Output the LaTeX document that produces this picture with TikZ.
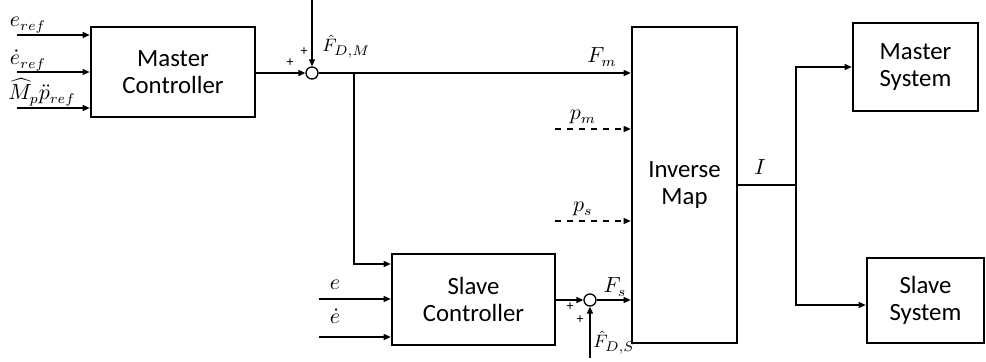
\documentclass[tikz,border=0pt]{standalone}
\usepackage{fontspec}
\setmainfont{Carlito}
\usetikzlibrary{arrows.meta}
\begin{document}
\begin{tikzpicture}[x=0.5pt,y=-0.5pt,
  blk/.style={draw, line width=1.3pt, align=center, inner sep=0pt,
    font=\fontsize{12.4}{13.5}\selectfont},
  sumc/.style={draw, circle, line width=0.65pt, minimum size=6pt, inner sep=0pt},
  arr/.style={line width=0.65pt, -{Triangle[length=3.5pt,width=3pt]}},
  ln/.style={line width=0.65pt},
  lab/.style={inner sep=0pt, anchor=base, font=\fontsize{10.5}{12}\selectfont},
  slab/.style={inner sep=0pt, anchor=base, font=\fontsize{9.5}{11}\selectfont},
  pl/.style={inner sep=0pt, font=\fontsize{7}{8}\selectfont}]
\useasboundingbox (0,0) rectangle (986,362);
% blocks
\node[blk, minimum width=82pt, minimum height=45pt] (mc) at (173,72) {Master\\Controller};
\node[blk, minimum width=81.5pt, minimum height=45.5pt] (sc) at (473.5,299.5) {Slave\\Controller};
\node[blk, minimum width=52.5pt, minimum height=158pt] (im) at (684.5,185) {Inverse\\Map};
\node[blk, minimum width=62.5pt, minimum height=44pt] (ms) at (915.5,67) {Master\\System};
\node[blk, minimum width=58.5pt, minimum height=42.5pt] (ss) at (925.5,300.5) {Slave\\System};
% summing junctions
\node[sumc] (s1) at (312,73) {};
\node[sumc] (s2) at (590,300) {};
% free ends
\coordinate (in1) at (17,35);
\coordinate (in2) at (17,72);
\coordinate (in3) at (17,108);
\coordinate (t1) at (312,0);
\coordinate (b1) at (354,73);
\coordinate (y264) at (0,264);
\coordinate (ein) at (319,299);
\coordinate (edin) at (319,337);
\coordinate (t2) at (590,358);
\coordinate (pm) at (555,129);
\coordinate (ps) at (555,221);
\coordinate (jI) at (796,185);
\coordinate (y305) at (0,305);
% connectors
\draw[arr] (in1) -- (in1 -| mc.west);
\draw[arr] (in2) -- (in2 -| mc.west);
\draw[arr] (in3) -- (in3 -| mc.west);
\draw[arr] (mc.east |- s1) -- (s1);
\draw[arr] (t1) -- (s1);
\draw[arr] (s1) -- (s1 -| im.west);
\draw[arr] (b1) |- (sc.west |- y264);
\draw[arr] (ein) -- (ein -| sc.west);
\draw[arr] (edin) -- (edin -| sc.west);
\draw[arr] (sc.east |- s2) -- (s2);
\draw[arr] (t2) -- (s2);
\draw[arr] (s2) -- (s2 -| im.west);
\draw[arr, dashed] (pm) -- (pm -| im.west);
\draw[arr, dashed] (ps) -- (ps -| im.west);
\draw[ln] (im.east |- jI) -- (jI);
\draw[arr] (jI) |- (ms.west);
\draw[arr] (jI) |- (ss.west |- y305);
% labels
\node[lab] (leref) at (28,27) {$e_{ref}$};
\node[lab] (ledref) at (28,65) {$\dot e_{ref}$};
\node[lab] (lmp) at (42,100) {$\widehat{M}_p\ddot p_{ref}$};
\node[slab, anchor=base west] (lfdm) at (322,52) {$\hat F_{D,M}$};
\node[lab] (lfm) at (602,63) {$F_m$};
\node[lab] (lpm) at (583,120) {$p_m$};
\node[lab] (lps) at (583,212) {$p_s$};
\node[lab] (le) at (335,290) {$e$};
\node[lab] (led) at (335,324) {$\dot e$};
\node[lab] (lfs) at (615,293) {$F_s$};
\node[slab, anchor=base west] (lfds) at (593,348) {$\hat F_{D,S}$};
\node[lab] (lI) at (760,175) {$I$};
\node[pl] (p1) at (290,63) {+};
\node[pl] (p2) at (304,52) {+};
\node[pl] (p3) at (570,307) {+};
\node[pl] (p4) at (580,320) {+};
\end{tikzpicture}
\end{document}
